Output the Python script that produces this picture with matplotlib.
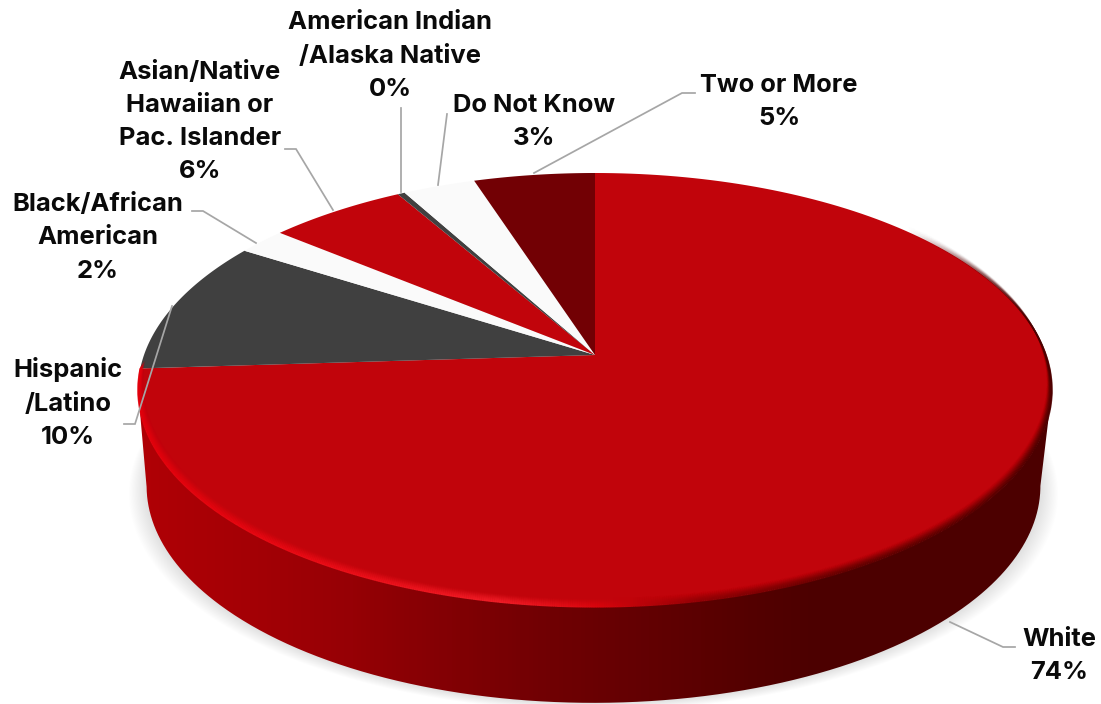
import matplotlib
matplotlib.use("Agg")
import matplotlib.pyplot as plt
import numpy as np
from matplotlib.collections import LineCollection
from matplotlib.colors import LinearSegmentedColormap, to_rgb
from matplotlib.patches import PathPatch, Polygon
from matplotlib.path import Path

categories = ["White", "Hispanic\n/Latino", "Black/African\nAmerican",
              "Asian/Native\nHawaiian or\nPac. Islander",
              "American Indian\n/Alaska Native", "Do Not Know", "Two or More"]
values = [74, 10, 2, 5.7, 0.3, 3, 5]
colors = ["#C1040B", "#404040", "#FAFAFA", "#C1040B", "#404040", "#FAFAFA", "#720004"]

label_x = [1059, 68, 98, 200, 390, 534, 779]
label_y = [656, 403, 238, 122, 56, 122, 102]

leaders = [
    [(1015, 647), (1003, 647), (950, 622)],
    [(124, 424), (135, 424), (172, 306)],
    [(192, 211), (203, 211), (256, 243)],
    [(285, 149), (296, 149), (333, 210)],
    [(401, 108), (401, 192)],
    [(447, 114), (438, 185)],
    [(695, 93), (682, 93), (534, 173)],
]

# pie geometry in pixels, k is the perspective
cx, cy = 595, 355
rx, ry = 451, 211.3
k = 0.161
depth = 96
base_scale = 0.978

plt.rcParams['font.family'] = ['Inter', 'DejaVu Sans']

fig = plt.figure(figsize=(11.01, 7.04), dpi=100)
ax = fig.add_axes([0, 0, 1, 1])
ax.set_xlim(0, 1101)
ax.set_ylim(704, 0)
ax.axis("off")


def project(deg, r=1.0, base=False):
    a = np.radians(deg)
    X, Y = r * np.sin(a), r * np.cos(a)
    w = 1 + k * Y
    if base:
        return cx - 1.5 + base_scale * rx * X / w, cy + depth - ry * Y / w
    return cx + rx * X / w, cy - ry * Y / w


ts = np.linspace(0, 360, 1441)
top_x, top_y = project(ts)
base_x, base_y = project(ts, base=True)

# soft shadow under the base
for grow in np.linspace(18, 1, 30):
    xs = cx - 1.5 + (base_x - cx + 1.5) * (1 + grow / 450)
    ys = base_y + grow * 0.45
    ax.add_patch(Polygon(np.c_[xs, ys], fc="#000000", ec="none", alpha=0.0045, zorder=1))

# side wall, shaded left to right
i_max, i_min = np.argmax(top_x), np.argmin(top_x)
j_max, j_min = np.argmax(base_x), np.argmin(base_x)
side = np.r_[np.c_[top_x[i_max:i_min + 1], top_y[i_max:i_min + 1]],
             np.c_[base_x[j_min:j_max - 1:-1], base_y[j_min:j_max - 1:-1]]]
side_cmap = LinearSegmentedColormap.from_list("side", [
    (0.0, "#B00006"), (138 / 1101, "#B00006"), (250 / 1101, "#A40005"), (350 / 1101, "#960005"),
    (450 / 1101, "#820004"), (550 / 1101, "#700003"), (650 / 1101, "#620002"),
    (750 / 1101, "#540000"), (820 / 1101, "#4C0000"), (1.0, "#4C0000")])
img = ax.imshow(np.linspace(0, 1, 1101)[None, :], cmap=side_cmap, vmin=0, vmax=1,
                extent=(0, 1101, 704, 0), aspect="auto", zorder=2)
img.set_clip_path(PathPatch(Path(side), transform=ax.transData))
ax.set_xlim(0, 1101)
ax.set_ylim(704, 0)

# top face
start = 0
for value, color in zip(values, colors):
    t = np.linspace(start, start + value * 3.6, 200)
    xs, ys = project(t)
    ax.add_patch(Polygon(np.r_[[[cx, cy]], np.c_[xs, ys]], fc=color, ec="none", zorder=3))
    start += value * 3.6

# bevel along the front edge of the top face
rim_stops = [(140, "#E4000B"), (300, "#EA0A14"), (500, "#F01C26"), (600, "#D8040C"),
             (700, "#900004"), (850, "#600000"), (1060, "#4C0000")]
rim_x = [s[0] for s in rim_stops]
rim_rgb = np.array([to_rgb(s[1]) for s in rim_stops])
rim_t = np.linspace(50, 266.4, 900)
fade = np.clip((rim_t[:-1] - 50) / 50, 0, 1)
for inset in range(11):
    xs, ys = project(rim_t)
    xs = cx + (xs - cx) * (1 - inset / 1000)
    ys = ys - inset * 0.8
    pts = np.c_[xs, ys]
    segs = np.stack([pts[:-1], pts[1:]], axis=1)
    mid = (xs[:-1] + xs[1:]) / 2
    rgb = np.c_[[np.interp(mid, rim_x, rim_rgb[:, c]) for c in range(3)]].T
    alpha = (1 - inset / 11) ** 1.5 * fade
    ax.add_collection(LineCollection(segs, colors=np.c_[rgb, alpha], linewidths=1.1,
                                     capstyle="butt", zorder=4))

# leader lines
for pts in leaders:
    pts = np.array(pts)
    ax.plot(pts[:, 0], pts[:, 1], color="#A6A6A6", lw=1.25, zorder=5, solid_joinstyle="miter")

# labels
for name, value, x, y in zip(categories, values, label_x, label_y):
    ax.text(x, y, f"{name}\n{value:.0f}%", ha="center", va="center", fontsize=18.4,
            fontweight="bold", color="#0A0A0A", linespacing=1.56, zorder=6)

fig.savefig("out.png", dpi=100)
